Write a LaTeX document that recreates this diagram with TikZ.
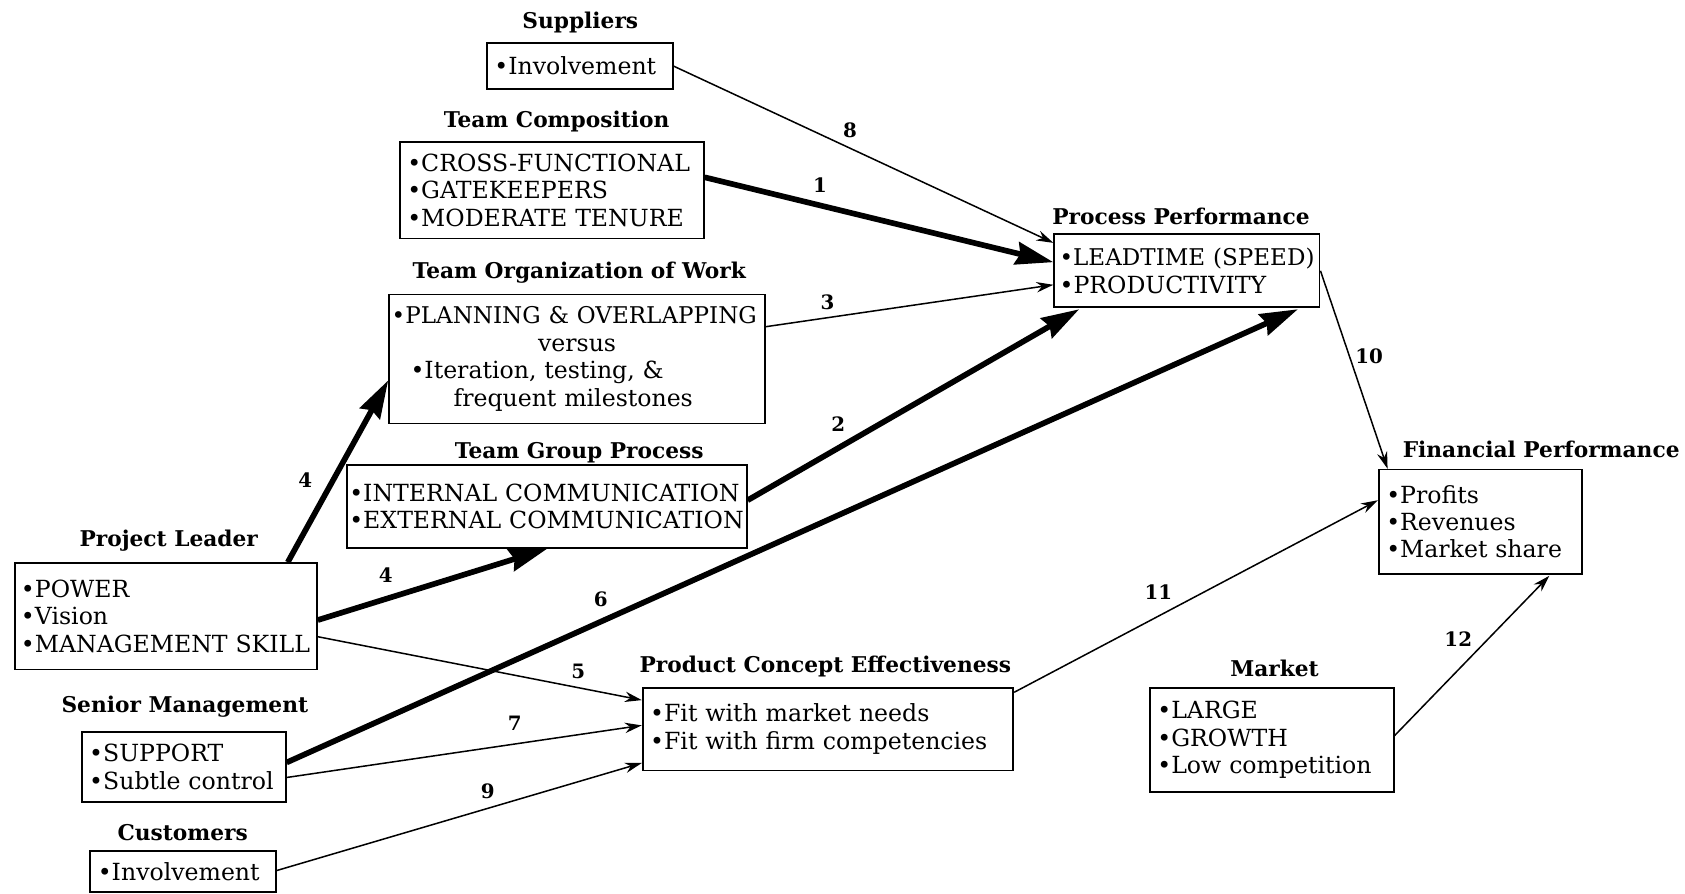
\documentclass[tikz,border=0pt]{standalone}
\usepackage{fontspec}
\setmainfont{DejaVu Serif}
\usetikzlibrary{arrows.meta,calc}
\newcommand\bulline[1]{\mbox{\textbullet #1}}
\begin{document}
\begin{tikzpicture}[x=0.02cm,y=-0.02cm,
  box/.style={draw,line width=0.9pt,inner xsep=0.14cm,inner ysep=0pt,align=left,
    font=\fontsize{12.5}{14.5}\selectfont,anchor=center},
  ttl/.style={font=\bfseries\fontsize{11.5}{13}\selectfont,inner sep=0pt},
  num/.style={font=\bfseries\fontsize{10.5}{12}\selectfont,inner sep=0pt},
  thinarr/.style={line width=0.8pt,-{Stealth[length=9pt,width=5.5pt]}},
  thickarr/.style={line width=3pt,-{Stealth[length=20pt,width=12pt,inset=2pt]}}]
\useasboundingbox (0,0) rectangle (1568,831);

% boxes
\node[box,text width=3.18cm,minimum height=0.86cm] (sup) at (539.5,61.5) {\bulline{Involvement}};
\node[box,text width=5.38cm,minimum height=1.8cm] (tc) at (513.5,177) {\bulline{CROSS-FUNCTIONAL}\\\bulline{GATEKEEPERS}\\\bulline{MODERATE TENURE}};
\node[box,text width=6.9cm,minimum height=2.4cm,inner xsep=0.05cm,font=\fontsize{12.5}{14.8}\selectfont] (tow) at (537,334) {{\fontsize{12.2}{14.8}\selectfont\bulline{PLANNING \& OVERLAPPING}}\\\makebox[6.9cm]{versus}\\\hspace*{0.35cm}\bulline{Iteration, testing, \&}\\\hspace*{1.15cm}\mbox{frequent milestones}};
\node[box,text width=7.36cm,minimum height=1.54cm,inner xsep=0.04cm] (tgp) at (509,471.5) {\bulline{INTERNAL COMMUNICATION}\\\bulline{EXTERNAL COMMUNICATION}};
\node[box,text width=5.4cm,minimum height=1.98cm,inner xsep=0.11cm] (pl) at (154.5,573.5) {\bulline{POWER}\\\bulline{Vision}\\\bulline{MANAGEMENT SKILL}};
\node[box,text width=3.52cm,minimum height=1.3cm] (sm) at (171,713.5) {\bulline{SUPPORT}\\\bulline{Subtle control}};
\node[box,text width=3.18cm,minimum height=0.76cm] (cu) at (170.5,811) {\bulline{Involvement}};
\node[box,text width=4.74cm,minimum height=1.36cm,inner xsep=0.1cm] (pp) at (1104.5,252) {{\fontsize{12.2}{14.5}\selectfont\bulline{LEADTIME (SPEED)}}\\\bulline{PRODUCTIVITY}};
\node[box,text width=3.5cm,minimum height=1.94cm] (fp) at (1377.5,485.5) {\bulline{Profits}\\\bulline{Revenues}\\\bulline{Market share}};
\node[box,text width=6.62cm,minimum height=1.54cm] (pce) at (770.5,678.5) {\bulline{Fit with market needs}\\\bulline{Fit with firm competencies}};
\node[box,text width=4.26cm,minimum height=1.94cm] (mk) at (1183.5,688.5) {\bulline{LARGE}\\\bulline{GROWTH}\\\bulline{Low competition}};

% titles
\node[ttl] (tsup) at (540,21) {Suppliers};
\node[ttl] (ttc) at (518,113) {Team Composition};
\node[ttl] (ttow) at (539,254) {Team Organization of Work};
\node[ttl] (ttgp) at (539,421) {Team Group Process};
\node[ttl] (tpl) at (157,503) {Project Leader};
\node[ttl] (tsm) at (172,658) {Senior Management};
\node[ttl] (tcu) at (170,775) {Customers};
\node[ttl] (tpp) at (1099,201) {Process Performance};
\node[ttl,anchor=west] (tfp) at (1305,418) {Financial Performance};
\node[ttl] (tpce) at (768,620) {Product Concept Effectiveness};
\node[ttl] (tmk) at (1186,622) {Market};

% arrows
\draw[thinarr] (sup.east) -- ($(pp.west)+(0,-26)$);
\draw[thickarr] ($(tc.east)+(0,-12)$) -- ($(pp.west)+(0,-8)$);
\draw[thinarr] ($(tow.east)+(0,-30)$) -- ($(pp.west)+(0,13)$);
\draw[thickarr] ($(tgp.east)+(0,-6)$) -- ($(pp.south west)+(24,1)$);
\draw[thickarr] ($(sm.east)+(0,-4)$) -- ($(pp.south east)+(-21,1)$);
\draw[thickarr] ($(pl.north east)+(-28,0)$) -- ($(tow.west)+(0,20)$);
\draw[thickarr] ($(pl.east)+(0,3.5)$) -- (tgp.south);
\draw[thinarr] ($(pl.east)+(0,19)$) -- ($(pce.west)+(0,-27)$);
\draw[thinarr] ($(sm.east)+(0,10)$) -- ($(pce.west)+(0,-3.5)$);
\draw[thinarr] ($(cu.east)+(0,-1)$) -- ($(pce.west)+(0,31.5)$);
\draw[thinarr] (pp.east) -- ($(fp.north west)+(9,0)$);
\draw[thinarr] ($(pce.north east)+(0,5)$) -- ($(fp.west)+(0,-20)$);
\draw[thinarr] ($(mk.east)+(0,-4)$) -- ($(fp.south east)+(-31,1)$);

% labels
\node[num] (n8) at (791,121) {8};
\node[num] (n1) at (763,172) {1};
\node[num] (n3) at (770,281) {3};
\node[num] (n2) at (780,395) {2};
\node[num] (n10) at (1274,332) {10};
\node[num] (n6) at (559,558) {6};
\node[num] (n4a) at (284,447) {4};
\node[num] (n4b) at (359,535) {4};
\node[num] (n5) at (538,625) {5};
\node[num] (n7) at (479,673) {7};
\node[num] (n9) at (454,736) {9};
\node[num] (n11) at (1078,551) {11};
\node[num] (n12) at (1357,595) {12};
\end{tikzpicture}
\end{document}
